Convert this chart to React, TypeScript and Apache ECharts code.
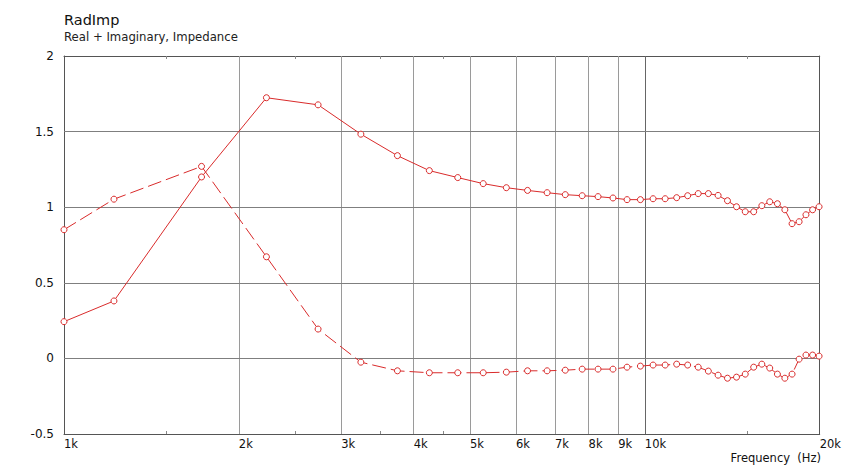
import { useEffect, useRef } from "react";
import * as echarts from "echarts";

const freqHz = [
  1000, 1219, 1725, 2231, 2738, 3244, 3750, 4256, 4763, 5269, 5775, 6281, 6788,
  7294, 7800, 8306, 8813, 9319, 9825, 10331, 10838, 11344, 11850, 12356, 12863,
  13369, 13875, 14381, 14888, 15394, 15900, 16406, 16913, 17419, 17925, 18431,
  18938, 19444, 19950,
];
const realPart = [
  0.243, 0.38, 1.2, 1.724, 1.677, 1.483, 1.341, 1.242, 1.196, 1.156, 1.129,
  1.111, 1.096, 1.083, 1.076, 1.07, 1.061, 1.05, 1.05, 1.056, 1.056, 1.063,
  1.076, 1.09, 1.09, 1.078, 1.043, 1.003, 0.97, 0.97, 1.01, 1.036, 1.023, 0.983,
  0.891, 0.904, 0.95, 0.983, 1.003,
];
const imagPart = [
  0.851, 1.053, 1.27, 0.672, 0.194, -0.025, -0.082, -0.095, -0.095, -0.095,
  -0.091, -0.082, -0.082, -0.078, -0.071, -0.071, -0.071, -0.058, -0.051,
  -0.044, -0.044, -0.038, -0.044, -0.058, -0.084, -0.111, -0.131, -0.124,
  -0.104, -0.058, -0.038, -0.064, -0.104, -0.131, -0.104, -0.005, 0.022, 0.022,
  0.015,
];
const xLabelValues = [1000, 2000, 3000, 4000, 5000, 6000, 7000, 8000, 9000, 10000, 20000];
const xMinorTicks = [1500, 2500, 3500, 4500, 15000];
const xGridValues = [2000, 3000, 4000, 5000, 6000, 7000, 8000, 9000];
const xMajorGrid = [10000];
const yGridValues = [0, 0.5, 1, 1.5];

const FONT = "DejaVu Sans";
const RED = "#d92b2b";
const FRAME = "#555555";

export default function App() {
  const ref = useRef<HTMLDivElement>(null);
  useEffect(() => {
    const chart = echarts.init(ref.current!, null, { renderer: "svg" });
    const realData = freqHz.map((f, i) => [f, realPart[i]]);
    const imagData = freqHz.map((f, i) => [f, imagPart[i]]);
    const gridLines = [
      ...xGridValues.map((v) => ({ xAxis: v, lineStyle: { color: "#9a9a9a" } })),
      ...xMajorGrid.map((v) => ({ xAxis: v, lineStyle: { color: "#666666" } })),
      ...yGridValues.map((v) => ({ yAxis: v, lineStyle: { color: "#7f7f7f" } })),
    ];
    const xCommon = {
      type: "log" as const,
      min: 1000,
      max: 20000,
      logBase: 10,
      splitLine: { show: false },
      axisLine: { show: true, onZero: false, lineStyle: { color: FRAME, width: 1 } },
      axisTick: {
        show: true,
        inside: true,
        length: 3,
        customValues: xMinorTicks,
        lineStyle: { color: "#888888" },
      },
      splitArea: { show: false },
      minorTick: { show: false },
      minorSplitLine: { show: false },
    };
    chart.setOption({
      animation: false,
      backgroundColor: "#ffffff",
      textStyle: { fontFamily: FONT },
      title: {
        text: "RadImp",
        subtext: "Real + Imaginary, Impedance",
        left: 64,
        top: 12,
        padding: 0,
        itemGap: 4,
        textStyle: { fontFamily: FONT, fontSize: 14.5, fontWeight: "normal", color: "#111111" },
        subtextStyle: { fontFamily: FONT, fontSize: 11.7, color: "#222222" },
      },
      grid: { left: 64, right: 23, top: 56, bottom: 35, containLabel: false },
      xAxis: [
        {
          ...xCommon,
          position: "bottom",
          axisLabel: {
            show: true,
            customValues: xLabelValues,
            formatter: (v: number) => `${Math.round(v / 1000)}k`,
            align: "left",
            margin: 4,
            fontFamily: FONT,
            fontSize: 11.5,
            color: "#111111",
          },
        },
        {
          ...xCommon,
          position: "top",
          axisLabel: { show: false },
        },
      ],
      yAxis: [
        {
          type: "value",
          min: -0.5,
          max: 2,
          interval: 0.5,
          position: "left",
          splitLine: { show: false },
          axisTick: { show: false },
          axisLine: { show: true, onZero: false, lineStyle: { color: FRAME, width: 1 } },
          axisLabel: { margin: 10, fontFamily: FONT, fontSize: 12, color: "#111111" },
        },
        {
          type: "value",
          min: -0.5,
          max: 2,
          interval: 0.5,
          position: "right",
          splitLine: { show: false },
          axisTick: { show: false },
          axisLabel: { show: false },
          axisLine: { show: true, onZero: false, lineStyle: { color: FRAME, width: 1 } },
        },
      ],
      graphic: [
        {
          type: "text",
          right: 23,
          top: 452,
          style: {
            text: "Frequency  (Hz)",
            fontFamily: FONT,
            fontSize: 11.5,
            fill: "#111111",
          },
        },
      ],
      series: [
        {
          name: "Real",
          type: "line",
          data: realData,
          xAxisIndex: 0,
          yAxisIndex: 0,
          symbol: "circle",
          symbolSize: 6,
          showSymbol: true,
          z: 3,
          lineStyle: { color: RED, width: 1 },
          itemStyle: { color: "#ffffff", borderColor: RED, borderWidth: 1 },
          markLine: {
            silent: true,
            z: 1,
            symbol: ["none", "none"],
            label: { show: false },
            lineStyle: { type: "solid", width: 1 },
            data: gridLines,
          },
        },
        {
          name: "Imaginary",
          type: "line",
          data: imagData,
          xAxisIndex: 0,
          yAxisIndex: 0,
          symbol: "circle",
          symbolSize: 6,
          showSymbol: true,
          z: 3,
          lineStyle: { color: RED, width: 1, type: [14, 5] },
          itemStyle: { color: "#ffffff", borderColor: RED, borderWidth: 1 },
        },
      ],
    });
    return () => chart.dispose();
  }, []);
  return (
    <div
      ref={ref}
      style={{ position: "fixed", left: 0, top: 0, width: 844, height: 469 }}
    />
  );
}
